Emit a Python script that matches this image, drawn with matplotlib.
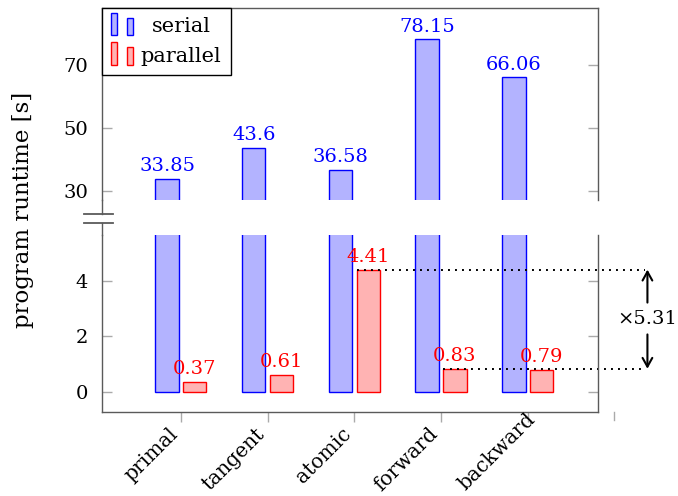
import numpy as np
import matplotlib
matplotlib.use('Agg')
import matplotlib.pyplot as plt
from matplotlib.patches import Rectangle
from matplotlib.lines import Line2D
from matplotlib.container import BarContainer
from matplotlib.legend_handler import HandlerBase
from matplotlib.transforms import Affine2D, blended_transform_factory

plt.rcParams['font.family'] = 'DejaVu Serif'
plt.rcParams['font.size'] = 14

methods = ['primal', 'tangent', 'atomic', 'forward', 'backward']
serial = [33.85, 43.6, 36.58, 78.15, 66.06]
parallel = [0.37, 0.61, 4.41, 0.83, 0.79]

SERIAL_FILL = '#b3b3ff'
PARALLEL_FILL = '#ffb3b3'
SPINE = '#5a5a5a'
TICK = '#aaaaaa'

W, H = 678, 496


def fx(px):
    return px / W


def fy(py):
    return 1 - py / H


class PairHandler(HandlerBase):
    # two small bars side by side, like a pgfplots ybar legend
    def create_artists(self, legend, orig_handle, xdescent, ydescent,
                       width, height, fontsize, trans):
        p = orig_handle.patches[0]
        fc, ec = p.get_facecolor(), p.get_edgecolor()
        x0, y0 = -xdescent, -ydescent - 0.2 * height
        r1 = Rectangle((x0, y0), 0.24 * width, 1.55 * height, fc=fc, ec=ec,
                       lw=1, transform=trans)
        r2 = Rectangle((x0 + 0.66 * width, y0), 0.3 * width, 1.2 * height,
                       fc=fc, ec=ec, lw=1, transform=trans)
        return [r1, r2]


fig = plt.figure(figsize=(W / 100, H / 100), dpi=100)
left, right = 102, 598
ax_top = fig.add_axes([fx(left), fy(200), fx(right) - fx(left), fy(8) - fy(200)])
ax_bot = fig.add_axes([fx(left), fy(412), fx(right) - fx(left), fy(235) - fy(412)])

x = np.arange(len(methods))
off, bw = 0.16, 0.27

for ax in (ax_top, ax_bot):
    bs = ax.bar(x - off, serial, bw, color=SERIAL_FILL, edgecolor='blue', lw=1)
    bp = ax.bar(x + off, parallel, bw, color=PARALLEL_FILL, edgecolor='red', lw=1)
    ax.set_xlim(-0.91, 4.81)
    for s in ax.spines.values():
        s.set_color(SPINE)
        s.set_linewidth(1.0)
    ax.tick_params(axis='y', left=True, right=True, direction='in',
                   length=7.5, width=1, color=TICK, pad=10)

ax_top.set_ylim(27.04, 88.14)
ax_top.set_yticks([30, 50, 70])
ax_top.spines['bottom'].set_visible(False)
ax_top.tick_params(axis='x', bottom=False, labelbottom=False)

ax_bot.set_ylim(-0.73, 5.66)
ax_bot.set_yticks([0, 2, 4])
ax_bot.spines['top'].set_visible(False)
ax_bot.set_xticks(x)
ax_bot.tick_params(axis='x', direction='out', length=7.2, width=1, color=TICK,
                   labelbottom=False)

# rotated category names, right end of the baseline hanging under each tick
tr = blended_transform_factory(ax_bot.transData, ax_bot.transAxes)
for i, name in enumerate(methods):
    dx, dy = -1.4, -16.5
    if name == 'backward':
        dx, dy = dx + 7.6, dy + 10.6
    ax_bot.annotate(name, (x[i], 0), xycoords=tr, xytext=(dx, dy),
                    textcoords='offset points', rotation=45, ha='right',
                    va='baseline', rotation_mode='anchor', fontsize=14.5,
                    annotation_clip=False)

# value labels
for i, v in enumerate(serial):
    ax_top.annotate(f'{v:g}', (x[i] - off, v), xytext=(0, 5.5),
                    textcoords='offset points', ha='center', va='baseline',
                    color='blue')
for i, v in enumerate(parallel):
    ax_bot.annotate(f'{v:g}', (x[i] + off, v), xytext=(0, 5.5),
                    textcoords='offset points', ha='center', va='baseline',
                    color='red')

# speedup marker between atomic and forward parallel runs
hi, lo = parallel[2], parallel[3]
xe, xa = 5.35, 5.38
for i, v in ((2, hi), (3, lo)):
    ax_bot.plot([x[i] + off - bw / 2, xe], [v, v], color='black', lw=1.4,
                ls=(0, (1, 2.6)), clip_on=False)
mid = (hi + lo) / 2
ax_bot.text(xa, mid, f'\u00d7{hi / lo:.2f}', ha='center', va='center', clip_on=False)
arrow = dict(arrowstyle='->, head_length=0.45, head_width=0.25', lw=1.5,
             color='black', shrinkA=0, shrinkB=0)
ax_bot.annotate('', xy=(xa, hi), xytext=(xa, mid + 0.6), arrowprops=arrow,
                annotation_clip=False)
ax_bot.annotate('', xy=(xa, lo), xytext=(xa, mid - 0.55), arrowprops=arrow,
                annotation_clip=False)

# stray tick below the axis end
ax_bot.plot([5, 5], [0, -8 / 177], color=TICK, lw=1, transform=tr, clip_on=False)

# axis break on the left spine
x0 = ax_top.get_position().x0
fig.add_artist(Line2D([x0, x0], [fy(200), fy(213.7)], color=SPINE, lw=1.0))
fig.add_artist(Line2D([x0, x0], [fy(223), fy(235)], color=SPINE, lw=1.0))
for yb in (213.7, 223):
    fig.add_artist(Line2D([fx(84), fx(113)], [fy(yb), fy(yb)], color=SPINE, lw=1.3))

fig.text(fx(23), (fy(8) + fy(412)) / 2, 'program runtime [s]', rotation=90,
         ha='center', va='center', fontsize=16.5)

leg = ax_top.legend([bs, bp], ['serial', 'parallel'], loc='upper left',
                    bbox_to_anchor=(0, 1), borderaxespad=0, fancybox=False,
                    framealpha=1, edgecolor='black', handlelength=1.1,
                    handletextpad=0.3, borderpad=0.45, labelspacing=0.5,
                    fontsize=15,
                    handler_map={BarContainer: PairHandler()})
leg.get_frame().set_linewidth(1.0)

# centre the shorter legend entry over the longer one
fig.canvas.draw()
r = fig.canvas.get_renderer()
t0, t1 = leg.get_texts()
shift = (t1.get_window_extent(r).width - t0.get_window_extent(r).width) / 2
t0.set_transform(t0.get_transform() + Affine2D().translate(shift, 0))

fig.savefig('out.png', dpi=100)
